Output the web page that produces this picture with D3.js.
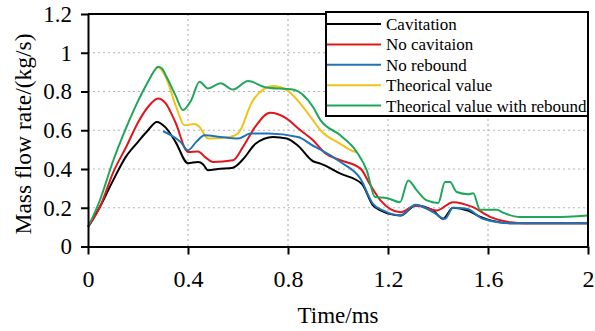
<!DOCTYPE html>
<html>
<head>
<meta charset="utf-8">
<script src="https://cdn.jsdelivr.net/npm/d3@7"></script>
</head>
<body style="margin:0">
<svg width="595" height="331"></svg>
<script>
// series: time (ms) and mass flow rate (kg/s)
const cavT = [0, 0.05, 0.1, 0.15, 0.2, 0.24, 0.275, 0.31, 0.35, 0.4, 0.44, 0.46, 0.48, 0.52, 0.58, 0.62, 0.67, 0.74, 0.795, 0.84, 0.9, 0.93, 1.01, 1.095, 1.14, 1.17, 1.25, 1.31, 1.38, 1.42, 1.46, 1.52, 1.57, 1.61, 1.69, 2.0];
const cavV = [0.1, 0.21, 0.34, 0.46, 0.54, 0.6, 0.643, 0.615, 0.54, 0.43, 0.436, 0.425, 0.393, 0.4, 0.407, 0.45, 0.53, 0.565, 0.557, 0.52, 0.44, 0.428, 0.376, 0.324, 0.212, 0.186, 0.16, 0.212, 0.186, 0.143, 0.2, 0.185, 0.152, 0.135, 0.12, 0.12];

const noCavT = [0, 0.05, 0.1, 0.155, 0.2, 0.24, 0.28, 0.31, 0.35, 0.4, 0.44, 0.47, 0.5, 0.58, 0.62, 0.67, 0.728, 0.795, 0.84, 0.9, 0.95, 1.01, 1.09, 1.13, 1.17, 1.25, 1.31, 1.395, 1.46, 1.54, 1.61, 1.69, 1.75, 2.0];
const noCavV = [0.1, 0.21, 0.38, 0.52, 0.64, 0.72, 0.764, 0.74, 0.64, 0.488, 0.49, 0.46, 0.436, 0.445, 0.514, 0.62, 0.69, 0.66, 0.61, 0.548, 0.48, 0.445, 0.402, 0.316, 0.238, 0.177, 0.212, 0.186, 0.229, 0.203, 0.152, 0.125, 0.12, 0.12];

const noRebT = [0.3, 0.333, 0.37, 0.4, 0.433, 0.466, 0.53, 0.6, 0.65, 0.72, 0.84, 0.9, 0.93, 1.01, 1.09, 1.14, 1.18, 1.25, 1.31, 1.38, 1.428, 1.46, 1.515, 1.58, 1.69, 2.0];
const noRebV = [0.595, 0.574, 0.54, 0.497, 0.54, 0.574, 0.565, 0.557, 0.583, 0.583, 0.565, 0.52, 0.5, 0.436, 0.35, 0.22, 0.186, 0.16, 0.215, 0.177, 0.143, 0.2, 0.195, 0.143, 0.12, 0.12];

const theoT = [0.27, 0.28, 0.307, 0.353, 0.386, 0.426, 0.446, 0.48, 0.565, 0.6, 0.66, 0.741, 0.795, 0.9, 0.93, 1.008, 1.061, 1.075];
const theoV = [0.92, 0.925, 0.885, 0.72, 0.626, 0.632, 0.617, 0.557, 0.565, 0.583, 0.755, 0.828, 0.807, 0.652, 0.6, 0.531, 0.492, 0.488];

const theoRebT = [0, 0.048, 0.1, 0.155, 0.2, 0.24, 0.267, 0.28, 0.295, 0.314, 0.35, 0.38, 0.413, 0.446, 0.48, 0.53, 0.58, 0.64, 0.713, 0.82, 0.9, 0.93, 1.008, 1.075, 1.115, 1.148, 1.195, 1.248, 1.281, 1.315, 1.355, 1.401, 1.428, 1.448, 1.475, 1.521, 1.541, 1.568, 1.635, 1.66, 1.728, 1.861, 2.0];
const theoRebV = [0.1, 0.24, 0.44, 0.62, 0.75, 0.85, 0.91, 0.928, 0.92, 0.876, 0.78, 0.704, 0.755, 0.85, 0.816, 0.842, 0.81, 0.854, 0.821, 0.81, 0.72, 0.652, 0.575, 0.488, 0.393, 0.255, 0.25, 0.229, 0.341, 0.29, 0.238, 0.225, 0.333, 0.333, 0.281, 0.27, 0.275, 0.19, 0.19, 0.175, 0.152, 0.152, 0.16];

const seriesNames = ["Cavitation", "No cavitaion", "No rebound", "Theorical value", "Theorical value with rebound"];
const seriesColors = ["#000000", "#e0161d", "#1f73b7", "#f2c218", "#1ea65a"];
const xTicks = [0, 0.4, 0.8, 1.2, 1.6, 2];
const yTicks = [0, 0.2, 0.4, 0.6, 0.8, 1, 1.2];

const series = [
    {name: seriesNames[0], color: seriesColors[0], t: cavT, v: cavV},
    {name: seriesNames[1], color: seriesColors[1], t: noCavT, v: noCavV},
    {name: seriesNames[2], color: seriesColors[2], t: noRebT, v: noRebV},
    {name: seriesNames[3], color: seriesColors[3], t: theoT, v: theoV},
    {name: seriesNames[4], color: seriesColors[4], t: theoRebT, v: theoRebV}
];

const svg = d3.select("svg");
const plotL = 88, plotR = 588, plotT = 14, plotB = 246.5;

const x = d3.scaleLinear().domain([0, 2]).range([plotL, plotR]);
const y = d3.scaleLinear().domain([0, 1.2]).range([plotB, plotT]);
const fmt = d3.format("~g");

// dotted grid
const grid = svg.append("g").attr("stroke", "#b5b5b5").attr("stroke-width", 1.2).attr("stroke-dasharray", "2,3");
grid.selectAll(".gx").data(xTicks.slice(1, -1)).enter().append("line")
    .attr("x1", d => x(d)).attr("x2", d => x(d)).attr("y1", plotT).attr("y2", plotB);
grid.selectAll(".gy").data(yTicks.slice(1, -1)).enter().append("line")
    .attr("x1", plotL).attr("x2", plotR).attr("y1", d => y(d)).attr("y2", d => y(d));

// lines, drawn so that green sits on top like the picture
const line = d3.line()
    .x(d => x(d[0]))
    .y(d => y(d[1]))
    .curve(d3.curveMonotoneX);

[3, 0, 1, 2, 4].forEach(i => {
    const s = series[i];
    svg.append("path")
        .datum(s.t.map((t, k) => [t, s.v[k]]))
        .attr("fill", "none")
        .attr("stroke", s.color)
        .attr("stroke-width", 2)
        .attr("stroke-linejoin", "round")
        .attr("d", line);
});

// frame
svg.append("line").attr("x1", plotL).attr("x2", plotR).attr("y1", plotT).attr("y2", plotT)
    .attr("stroke", "#000").attr("stroke-width", 2);
svg.append("line").attr("x1", plotR).attr("x2", plotR).attr("y1", plotT).attr("y2", plotB)
    .attr("stroke", "#000").attr("stroke-width", 2);

// axes
const xAxis = svg.append("g")
    .attr("transform", "translate(0," + plotB + ")")
    .call(d3.axisBottom(x).tickValues(xTicks).tickFormat(fmt).tickSize(8).tickSizeOuter(0));
const yAxis = svg.append("g")
    .attr("transform", "translate(" + plotL + ",0)")
    .call(d3.axisLeft(y).tickValues(yTicks).tickFormat(fmt).tickSize(7).tickPadding(9).tickSizeOuter(0));

svg.selectAll(".domain, .tick line").attr("stroke", "#000").attr("stroke-width", 2);
xAxis.selectAll("text").attr("y", 40).attr("dy", 0).style("font-size", "24px");
yAxis.selectAll("text").style("font-size", "23px");
svg.selectAll(".tick text").attr("fill", "#000");

// axis titles
svg.append("text")
    .attr("x", 338).attr("y", 323)
    .attr("text-anchor", "middle")
    .style("font-size", "23px")
    .text("Time/ms");

svg.append("text")
    .attr("transform", "translate(31,134) rotate(-90)")
    .attr("text-anchor", "middle")
    .style("font-size", "23.5px")
    .text("Mass flow rate/(kg/s)");

// legend
const legend = svg.append("g");
legend.append("rect")
    .attr("x", 326).attr("y", 12).attr("width", 262).attr("height", 104)
    .attr("fill", "#fff").attr("stroke", "#000").attr("stroke-width", 2);

const rows = legend.selectAll(".row").data(series).enter().append("g")
    .attr("transform", (d, i) => "translate(0," + (24 + i * 20.4) + ")");
rows.append("line")
    .attr("x1", 327).attr("x2", 381).attr("y1", 0).attr("y2", 0)
    .attr("stroke", d => d.color).attr("stroke-width", 2);
rows.append("text")
    .attr("x", 386).attr("y", 6)
    .style("font-size", "17px")
    .text(d => d.name);

// serif face for every label, as in the picture
svg.selectAll("text").style("font-family", "'Times New Roman', 'Liberation Serif', Tinos");
</script>
</body>
</html>
